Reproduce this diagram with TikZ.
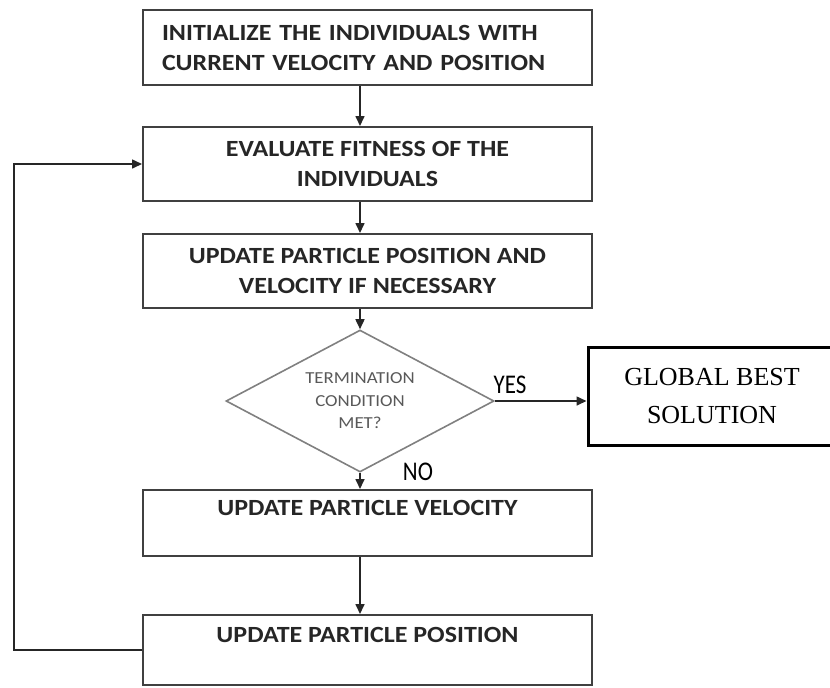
\documentclass[tikz,border=0pt]{standalone}
\usepackage{fontspec}
\setmainfont{Carlito}[FakeStretch=1.12]
\newfontfamily\gbfont{Liberation Serif}
\newfontfamily\ynfont{Carlito}[FakeStretch=0.85]
\usepackage{tikz}
\usetikzlibrary{shapes,arrows.meta,calc,positioning}

\begin{document}
\begin{tikzpicture}[x=0.5pt, y=-0.5pt,
      box/.style={draw=black!75, line width=1pt, rectangle, minimum width=224.5pt,
        inner sep=0pt, align=center, text=black!85,
        font=\bfseries\fontsize{11.6}{15}\selectfont},
      cond/.style={draw=black!50, line width=0.8pt, diamond, aspect=1.89,
        minimum width=134pt, minimum height=71pt, inner sep=0pt, align=center,
        text=black!65, font=\fontsize{8.4}{11.25}\selectfont},
      arr/.style={draw=black!85, line width=0.8pt, -{Triangle[length=5pt,width=4.5pt]}}]
    \useasboundingbox (0,0) rectangle (830,687);
    \node (init) [box, minimum height=37.5pt, text width=205.5pt, align=left] at (367.5,47.5)
      {INITIALIZE THE INDIVIDUALS WITH\\CURRENT VELOCITY AND POSITION};
    \node (eval) [box, minimum height=37pt] at (367.5,164)
      {EVALUATE FITNESS OF THE\\INDIVIDUALS};
    \node (upd) [box, minimum height=37pt] at (367.5,271)
      {UPDATE PARTICLE POSITION AND\\VELOCITY IF NECESSARY};
    \node (term) [cond] at (360,401) {TERMINATION\\CONDITION\\MET?};
    \node (gbest) [draw=black, line width=1.5pt, minimum width=124pt, minimum height=49pt,
      align=center, font=\gbfont\fontsize{13}{19}\selectfont] at (712,396)
      {GLOBAL BEST\\SOLUTION};
    \node (vel) [box, minimum height=33pt] at (367.5,523)
      {UPDATE PARTICLE VELOCITY\\\mbox{}};
    \node (pos) [box, minimum height=35pt] at (367.5,650)
      {UPDATE PARTICLE POSITION\\\mbox{}};
    \node (yes) [font=\ynfont\fontsize{13.5}{13.5}\selectfont] at (510,385) {YES};
    \node (no) [font=\ynfont\fontsize{13.5}{13.5}\selectfont] at (418,472) {NO};
    \coordinate (back) at (14,0);

    \draw[arr] (term.north |- init.south) -- (term.north |- eval.north);
    \draw[arr] (term.north |- eval.south) -- (term.north |- upd.north);
    \draw[arr] (term.north |- upd.south) -- (term.north);
    \draw[arr] (term.east) -- (term.east -| gbest.west);
    \draw[arr] (term.south) -- (term.south |- vel.north);
    \draw[arr] (term.south |- vel.south) -- (term.south |- pos.north);
    \draw[arr] (pos.west) -- (pos.west -| back) |- (eval.west);
\end{tikzpicture}
\end{document}
